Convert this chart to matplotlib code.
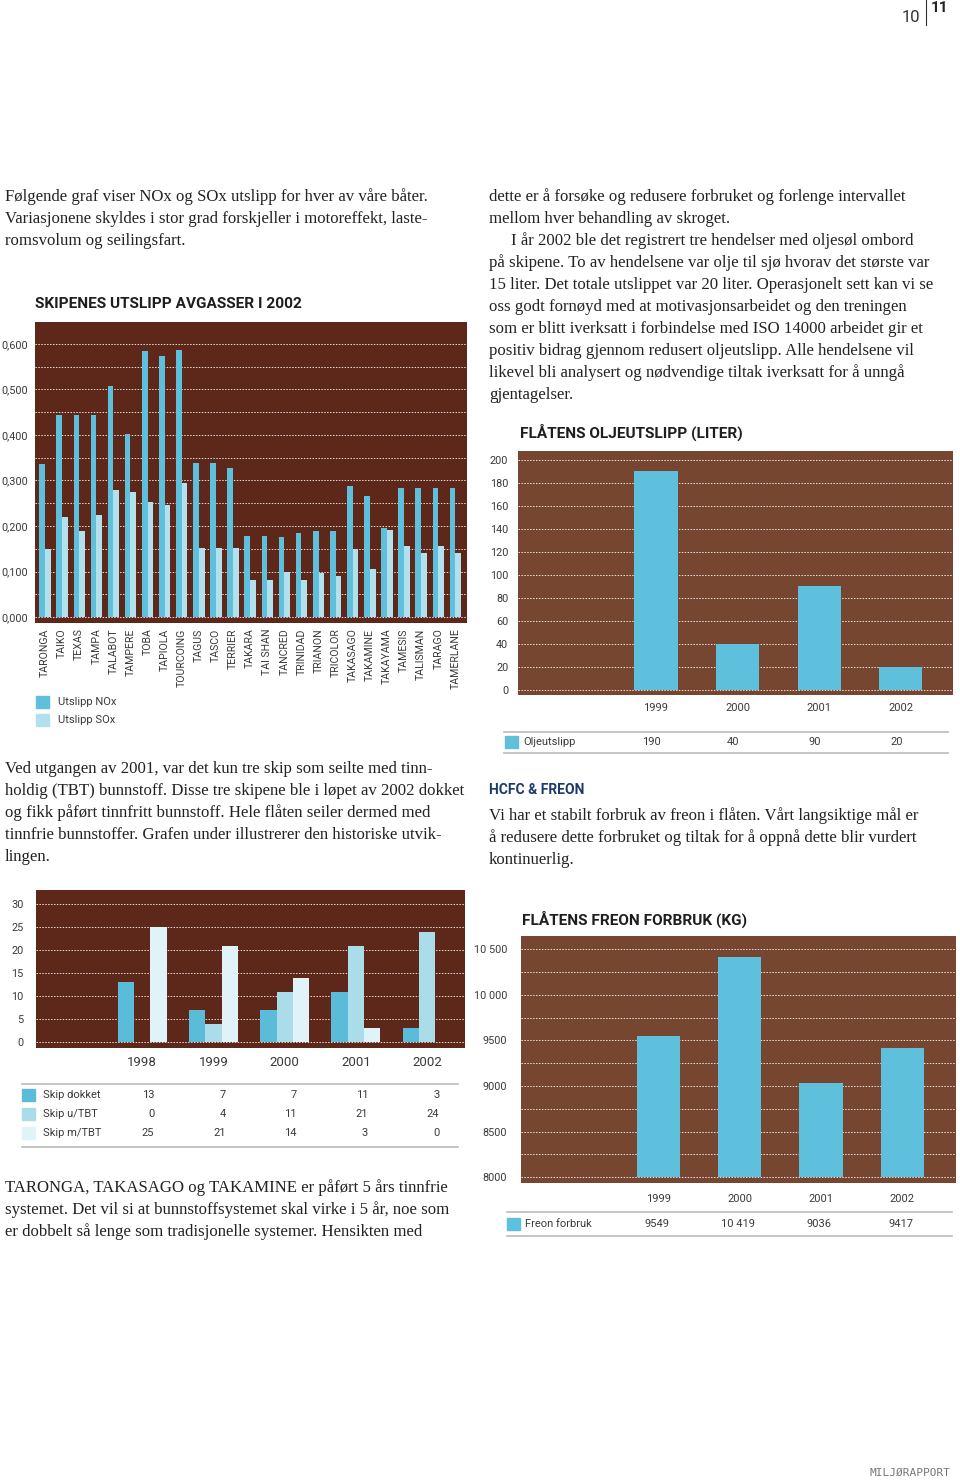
import matplotlib
matplotlib.use("Agg")
import matplotlib.pyplot as plt
import numpy as np
from matplotlib.patches import Rectangle
from matplotlib.lines import Line2D
from matplotlib.transforms import blended_transform_factory

# ---------------- data ----------------
ships = ["TARONGA", "TAIKO", "TEXAS", "TAMPA", "TALABOT", "TAMPERE", "TOBA", "TAPIOLA",
         "TOURCOING", "TAGUS", "TASCO", "TERRIER", "TAKARA", "TAI SHAN", "TANCRED",
         "TRINIDAD", "TRIANON", "TRICOLOR", "TAKASAGO", "TAKAMINE", "TAKAYAMA",
         "TAMESIS", "TALISMAN", "TARAGO", "TAMERLANE"]
nox = [0.336, 0.443, 0.443, 0.443, 0.508, 0.402, 0.584, 0.574, 0.587, 0.338, 0.338, 0.328,
       0.178, 0.179, 0.176, 0.185, 0.189, 0.189, 0.287, 0.266, 0.196, 0.284, 0.283, 0.283, 0.284]
sox = [0.149, 0.219, 0.189, 0.225, 0.278, 0.274, 0.252, 0.246, 0.295, 0.151, 0.152, 0.151,
       0.082, 0.081, 0.099, 0.082, 0.096, 0.090, 0.149, 0.105, 0.192, 0.157, 0.141, 0.155, 0.141]
emis_ticks = [0.0, 0.1, 0.2, 0.3, 0.4, 0.5, 0.6]
emis_tick_labels = ["0,000", "0,100", "0,200", "0,300", "0,400", "0,500", "0,600"]

oil_years = ["1999", "2000", "2001", "2002"]
oil_values = [190, 40, 90, 20]
oil_ticks = [0, 20, 40, 60, 80, 100, 120, 140, 160, 180, 200]

tbt_years = ["1998", "1999", "2000", "2001", "2002"]
tbt_series = ["Skip dokket", "Skip u/TBT", "Skip m/TBT"]
skip_dokket = [13, 7, 7, 11, 3]
skip_u_tbt = [0, 4, 11, 21, 24]
skip_m_tbt = [25, 21, 14, 3, 0]
tbt_ticks = [0, 5, 10, 15, 20, 25, 30]

freon_years = ["1999", "2000", "2001", "2002"]
freon_values = [9549, 10419, 9036, 9417]
freon_value_labels = ["9549", "10 419", "9036", "9417"]
freon_ticks = [8000, 8500, 9000, 9500, 10000, 10500]
freon_tick_labels = ["8000", "8500", "9000", "9500", "10 000", "10 500"]

# ---------------- styles ----------------
W, H = 960, 1482
SANS = ["Roboto", "DejaVu Sans"]
SERIF = ["Liberation Serif", "DejaVu Serif"]
WOOD_DARK = "#5d2819"
WOOD_LIGHT = "#774630"
C_NOX = "#5ec0dc"
C_SOX = "#b2e1ed"
C1, C2, C3 = "#5bbcd9", "#aadcea", "#e0f3f8"
TXT = "#3a3a3a"

fig = plt.figure(figsize=(W / 100, H / 100), dpi=100)
fig.patch.set_facecolor("white")


def fx(x):
    return x / W


def fy(y):
    return 1 - y / H


def add_ax(left, top, width, height, bg):
    ax = fig.add_axes([fx(left), fy(top + height), width / W, height / H])
    ax.set_facecolor(bg)
    for s in ax.spines.values():
        s.set_visible(False)
    ax.set_axisbelow(True)
    ax.tick_params(length=0, colors=TXT, labelsize=7.5)
    return ax


def grid(ax):
    ax.grid(axis="y", which="both", color="white", linestyle=(0, (1.5, 1.5)),
            linewidth=0.7, alpha=0.85)
    ax.grid(axis="x", visible=False)


def swatch(x, y, color, w=13, h=12):
    fig.patches.append(Rectangle((fx(x), fy(y + h / 2)), w / W, h / H,
                                 transform=fig.transFigure, color=color))


def hline(x0, x1, y, color="#bbbbbb", lw=1.2):
    fig.lines.append(Line2D([fx(x0), fx(x1)], [fy(y), fy(y)], transform=fig.transFigure,
                            color=color, lw=lw))


def ftext(x, y, s, **kw):
    kw.setdefault("va", "center")
    fig.text(fx(x), fy(y), s, **kw)


# ---------------- page header / footer ----------------
ftext(920, 17, "10", ha="right", fontsize=12, family=SANS, color="#333333")
fig.lines.append(Line2D([fx(926), fx(926)], [fy(0), fy(25)], transform=fig.transFigure,
                        color="#333333", lw=0.8))
ftext(931, 8, "11", ha="left", fontsize=11, family=SANS, color="#222222", fontweight="bold")
ftext(950, 1473, "MILJØRAPPORT", ha="right", fontsize=8, family=["DejaVu Sans Mono"],
      color="#777777")

# ---------------- body text ----------------
body = dict(fontsize=12.1, family=SERIF, color="#222222", ha="left")
left_top = ["Følgende graf viser NOx og SOx utslipp for hver av våre båter.",
            "Variasjonene skyldes i stor grad forskjeller i motoreffekt, laste-",
            "romsvolum og seilingsfart."]
for i, s in enumerate(left_top):
    ftext(5, 197 + 22 * i, s, **body)

right_top = ["dette er å forsøke og redusere forbruket og forlenge intervallet",
             "mellom hver behandling av skroget.",
             "I år 2002 ble det registrert tre hendelser med oljesøl ombord",
             "på skipene. To av hendelsene var olje til sjø hvorav det største var",
             "15 liter. Det totale utslippet var 20 liter. Operasjonelt sett kan vi se",
             "oss godt fornøyd med at motivasjonsarbeidet og den treningen",
             "som er blitt iverksatt i forbindelse med ISO 14000 arbeidet gir et",
             "positiv bidrag gjennom redusert oljeutslipp. Alle hendelsene vil",
             "likevel bli analysert og nødvendige tiltak iverksatt for å unngå",
             "gjentagelser."]
for i, s in enumerate(right_top):
    ftext(511 if i == 2 else 489, 197 + 22 * i, s, **body)

left_mid = ["Ved utgangen av 2001, var det kun tre skip som seilte med tinn-",
            "holdig (TBT) bunnstoff. Disse tre skipene ble i løpet av 2002 dokket",
            "og fikk påført tinnfritt bunnstoff. Hele flåten seiler dermed med",
            "tinnfrie bunnstoffer. Grafen under illustrerer den historiske utvik-",
            "lingen."]
for i, s in enumerate(left_mid):
    ftext(5, 769 + 22 * i, s, **body)

ftext(489, 790, "HCFC & FREON", ha="left", fontsize=10, family=SANS, fontweight="bold",
      color="#1d3a6b")
right_mid = ["Vi har et stabilt forbruk av freon i flåten. Vårt langsiktige mål er",
             "å redusere dette forbruket og tiltak for å oppnå dette blir vurdert",
             "kontinuerlig."]
for i, s in enumerate(right_mid):
    ftext(489, 816 + 22 * i, s, **body)

left_bot = ["TARONGA, TAKASAGO og TAKAMINE er påført 5 års tinnfrie",
            "systemet. Det vil si at bunnstoffsystemet skal virke i 5 år, noe som",
            "er dobbelt så lenge som tradisjonelle systemer. Hensikten med"]
for i, s in enumerate(left_bot):
    ftext(5, 1188 + 22 * i, s, **body)

title_kw = dict(ha="left", fontsize=11.1, family=SANS, fontweight="bold", color="#1e1e1e")

# ---------------- chart 1: NOx / SOx ----------------
ftext(35, 304, "SKIPENES UTSLIPP AVGASSER I 2002", **title_kw)
ax1 = add_ax(35, 322, 432, 301, WOOD_DARK)
x = np.arange(len(ships))
bw = 0.333
ax1.bar(x - bw / 2, nox, width=bw, color=C_NOX, zorder=3)
ax1.bar(x + bw / 2, sox, width=bw, color=C_SOX, zorder=3)
ax1.set_xlim(-0.585, 24.68)
ax1.set_ylim(-0.013, 0.648)
ax1.set_yticks(emis_ticks)
ax1.set_yticklabels(emis_tick_labels, family=SANS, fontsize=7.8, color=TXT)
ax1.set_yticks(np.arange(0.05, 0.6, 0.1), minor=True)
ax1.tick_params(axis="y", which="both", length=0, pad=5)
ax1.set_xticks(x)
ax1.set_xticklabels(ships, rotation=90, family=SANS, fontsize=7.6, color=TXT)
ax1.tick_params(axis="x", length=0, pad=4)
grid(ax1)
swatch(36, 702, C_NOX)
swatch(36, 720, C_SOX)
ftext(58, 702, "Utslipp NOx", ha="left", fontsize=8, family=SANS, color=TXT)
ftext(58, 720, "Utslipp SOx", ha="left", fontsize=8, family=SANS, color=TXT)

# ---------------- chart 2: oil ----------------
ftext(520, 432, "FLÅTENS OLJEUTSLIPP (LITER)", **title_kw)
ax2 = add_ax(518, 451, 435, 244, WOOD_LIGHT)
xo = np.arange(1, len(oil_years) + 1)
ax2.bar(xo, oil_values, width=0.53, color=C_NOX, zorder=3)
ax2.set_xlim(-0.69, 4.64)
ax2.set_ylim(-4.7, 207.8)
ax2.set_yticks(oil_ticks)
ax2.set_yticklabels([str(t) for t in oil_ticks], family=SANS, fontsize=7.8, color=TXT)
ax2.tick_params(axis="y", length=0, pad=7)
ax2.set_xticks(xo)
ax2.set_xticklabels(oil_years, family=SANS, fontsize=8, color=TXT)
ax2.tick_params(axis="x", length=0, pad=6)
grid(ax2)
hline(504, 948, 732)
hline(504, 948, 753)
swatch(505, 742, C_NOX)
ftext(523, 742, "Oljeutslipp", ha="left", fontsize=8, family=SANS, color=TXT)
tr2 = blended_transform_factory(ax2.transData, fig.transFigure)
for xi, v in zip(xo, oil_values):
    ax2.text(xi - 0.05, fy(742), str(v), transform=tr2, ha="center", va="center",
             fontsize=8, family=SANS, color=TXT)

# ---------------- chart 3: TBT ----------------
ax3 = add_ax(36, 890, 429, 158, WOOD_DARK)
xg = np.arange(1, len(tbt_years) + 1)
bw3 = 0.229
for off, vals, col in zip([-bw3, 0, bw3], [skip_dokket, skip_u_tbt, skip_m_tbt], [C1, C2, C3]):
    ax3.bar(xg + off, vals, width=bw3, color=col, zorder=3)
ax3.set_xlim(-0.49, 5.53)
ax3.set_ylim(-1.24, 33.1)
ax3.set_yticks(tbt_ticks)
ax3.set_yticklabels([str(t) for t in tbt_ticks], family=SANS, fontsize=7.8, color=TXT)
ax3.tick_params(axis="y", length=0, pad=9)
ax3.set_xticks(xg)
ax3.set_xticklabels(tbt_years, family=SANS, fontsize=9.5, color=TXT)
ax3.tick_params(axis="x", length=0, pad=6)
grid(ax3)
hline(22, 458, 1084)
hline(22, 458, 1147)
tr3 = blended_transform_factory(ax3.transData, fig.transFigure)
for r, (name, vals, col) in enumerate(zip(tbt_series, [skip_dokket, skip_u_tbt, skip_m_tbt],
                                          [C1, C2, C3])):
    yrow = 1095 + 19 * r
    swatch(22, yrow, col)
    ftext(43, yrow, name, ha="left", fontsize=8, family=SANS, color=TXT)
    for xi, v in zip(xg, vals):
        ax3.text(xi + 0.17, fy(yrow), str(v), transform=tr3, ha="right", va="center",
                 fontsize=8, family=SANS, color=TXT)

# ---------------- chart 4: freon ----------------
ftext(522, 919, "FLÅTENS FREON FORBRUK (KG)", **title_kw)
ax4 = add_ax(521, 936, 435, 247, WOOD_LIGHT)
xf = np.arange(1, len(freon_years) + 1)
base = freon_ticks[0]
ax4.bar(xf, [v - base for v in freon_values], bottom=base, width=0.53, color=C_NOX, zorder=3)
ax4.set_xlim(-0.69, 4.66)
ax4.set_ylim(7937, 10646)
ax4.set_yticks(freon_ticks)
ax4.set_yticklabels(freon_tick_labels, family=SANS, fontsize=7.8, color=TXT)
ax4.set_yticks(np.arange(8250, 10500, 500), minor=True)
ax4.tick_params(axis="y", which="both", length=0, pad=10)
ax4.set_xticks(xf)
ax4.set_xticklabels(freon_years, family=SANS, fontsize=8, color=TXT)
ax4.tick_params(axis="x", length=0, pad=8)
grid(ax4)
hline(507, 952, 1212)
hline(507, 952, 1236)
swatch(507, 1224, C_NOX)
ftext(525, 1224, "Freon forbruk", ha="left", fontsize=8, family=SANS, color=TXT)
tr4 = blended_transform_factory(ax4.transData, fig.transFigure)
for xi, s in zip(xf, freon_value_labels):
    ax4.text(xi - 0.02, fy(1224), s, transform=tr4, ha="center", va="center",
             fontsize=8, family=SANS, color=TXT)

fig.savefig("out.png", dpi=100, facecolor="white")
